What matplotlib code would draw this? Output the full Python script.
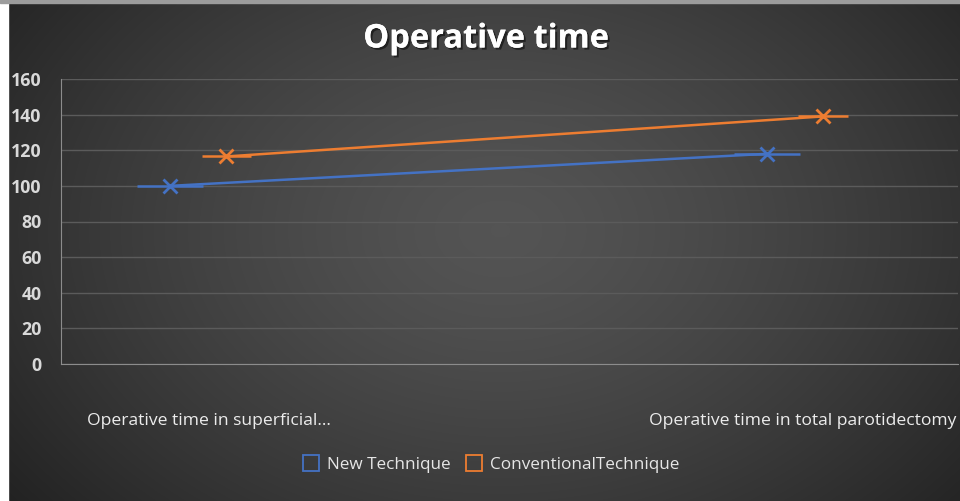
import numpy as np
import matplotlib
matplotlib.use("Agg")
import matplotlib.pyplot as plt
from matplotlib.lines import Line2D
import matplotlib.patheffects as pe

# data
categories = ["Operative time in superficial...",
              "Operative time in total parotidectomy"]
series = ["New Technique", "ConventionalTechnique"]
new_tech = [100, 118]
conv_tech = [116.5, 139]
# horizontal whisker half-widths (in category units)
new_xerr = [0.055, 0.055]
conv_xerr = [0.041, 0.042]
yticks = [0, 20, 40, 60, 80, 100, 120, 140, 160]

BLUE = "#4472c4"; ORANGE = "#ed7d31"; TXT = "#d9d9d9"; GRID = "#5b5b5b"
plt.rcParams["font.family"] = ["Open Sans", "DejaVu Sans"]

W, H = 960, 501
fig = plt.figure(figsize=(W / 100, H / 100), dpi=100)

# radial dark gradient background
bg = fig.add_axes([0, 0, 1, 1], zorder=-10)
yy, xx = np.mgrid[0:H, 0:W]
r = np.sqrt(((xx - 500) / 560.0) ** 2 + ((yy - 230) / 400.0) ** 2)
lum = 0.33 - 0.17 * np.clip(r, 0, 1.2) ** 1.4
bg.imshow(np.dstack([lum, lum, lum]), extent=[0, W, H, 0], aspect="auto")
bg.set_xlim(0, W); bg.set_ylim(H, 0)
bg.add_patch(plt.Rectangle((0, 0), 8, H, color="white"))
bg.add_patch(plt.Rectangle((0, 0), W, 3, color="#9c9c9c"))
bg.axis("off")

ax = fig.add_axes([61 / W, 1 - 364 / H, (958 - 61) / W, (364 - 79) / H])
ax.patch.set_alpha(0)

xpos = np.arange(len(categories))
off = 0.047
ax.errorbar(xpos - off, new_tech, xerr=new_xerr, color=BLUE, lw=1.8,
            marker="x", ms=10, mew=2.0, capsize=0, elinewidth=1.8)
ax.errorbar(xpos + off, conv_tech, xerr=conv_xerr, color=ORANGE, lw=1.8,
            marker="x", ms=10, mew=2.0, capsize=0, elinewidth=1.8)

ax.set_ylim(0, 160)
ax.set_xlim(-0.2295, 1.273)
ax.set_yticks(yticks)
ax.yaxis.grid(True, color=GRID, lw=1)
ax.set_axisbelow(True)
ax.tick_params(axis="y", length=0, pad=14, labelcolor=TXT, labelsize=12.8)
for lab in ax.get_yticklabels():
    lab.set_fontweight("bold")
ax.set_xticks(xpos + np.array([0.018, 0.013]))
ax.set_xticklabels(categories)
ax.tick_params(axis="x", length=0, pad=35, labelcolor="#ececec", labelsize=12.6)
for s in ["top", "right"]:
    ax.spines[s].set_visible(False)
ax.spines["left"].set_color("#8c8c8c")
ax.spines["bottom"].set_color("#8c8c8c")

title = fig.text(486 / W, 1 - 39 / H, "Operative time", ha="center", va="center",
                 color="white", fontsize=23.5, fontweight="bold",
                 path_effects=[pe.withSimplePatchShadow(offset=(1.5, -1.5),
                                                        shadow_rgbFace="black", alpha=0.5),
                               pe.Normal()])

handles = [Line2D([], [], ls="none", marker="s", ms=12, mfc="none",
                  mec=c, mew=1.3) for c in (BLUE, ORANGE)]
fig.legend(handles, series, loc="center", bbox_to_anchor=(490 / W, 1 - 465 / H),
           ncol=2, frameon=False, labelcolor="#e6e6e6", fontsize=12.3,
           handletextpad=0.3, columnspacing=0.8, handlelength=1.2)

fig.savefig("out.png", dpi=100)
